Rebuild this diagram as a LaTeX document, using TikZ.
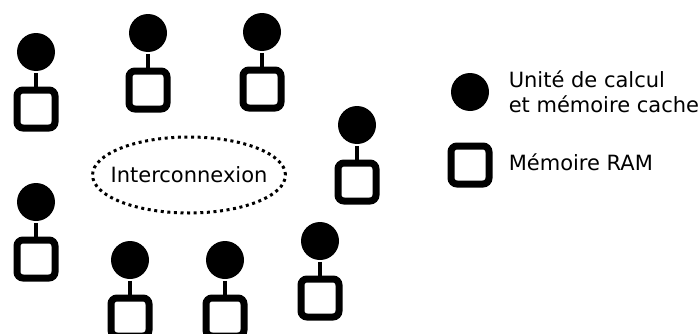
\documentclass[tikz,border=0pt]{standalone}
\usepackage{fontspec}
\setmainfont{DejaVu Sans}
\usetikzlibrary{shapes.geometric,positioning}

\begin{document}
\begin{tikzpicture}[x=1pt,y=1pt,node distance=57pt,line width=3.5pt,
	font=\fontsize{21}{25}\selectfont]
	\tikzstyle{cpu}=[circle,fill=black,minimum size=38pt,inner sep=0pt]
	\tikzstyle{ram}=[draw,fill=white,line width=7pt,rounded corners=6pt,
		minimum size=38pt,inner sep=0pt]
	\useasboundingbox (0,0) rectangle (700,333);
	
	% units
	\node[cpu] (c1) at (36,281)  {};
	\node[cpu] (c2) at (148,300) {};
	\node[cpu] (c3) at (262,301) {};
	\node[cpu] (c4) at (357,208) {};
	\node[cpu] (c5) at (36,131)  {};
	\node[cpu] (c6) at (130,73)  {};
	\node[cpu] (c7) at (225,73)  {};
	\node[cpu] (c8) at (320,92)  {};
	\foreach \i in {1,...,8}
		\node[ram] (r\i) [below of=c\i] {};
	\foreach \i in {1,...,8}
		\path (c\i) edge (r\i);
	
	\node[ellipse,draw,line width=3pt,dash pattern=on 3pt off 3.6pt,
		minimum height=76pt,inner xsep=-10.2pt,inner ysep=0pt]
		(net) at (189,158) {Interconnexion};
	
	% legend
	\node[cpu] (lc) at (470,241) {};
	\node[ram] (lr) at (470,168) {};
	\node[anchor=west,align=left,inner sep=0pt] (lct) at (507,241)
		{Unité de calcul\\et mémoire cache};
	\node[anchor=base west,inner sep=0pt] (lrt) at (507,163) {Mémoire RAM};
	
\end{tikzpicture}
\end{document}
